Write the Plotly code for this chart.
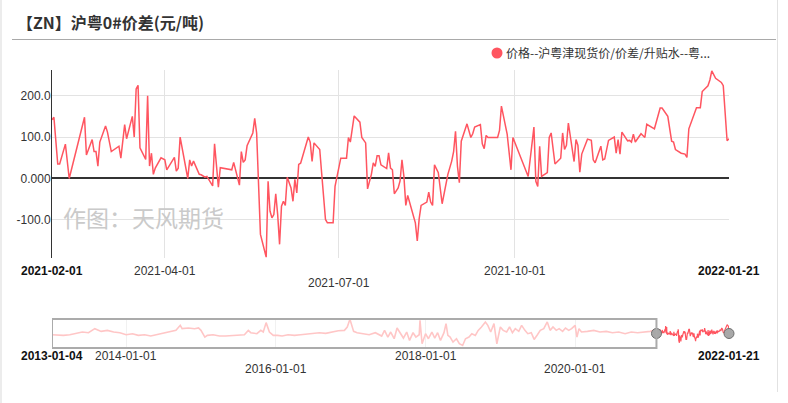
import plotly.graph_objects as go

# ---------------- data ----------------
main_dates = [
    "2021-02-01", "2021-02-02", "2021-02-04", "2021-02-05", "2021-02-08", "2021-02-10",
    "2021-02-18", "2021-02-19", "2021-02-22", "2021-02-23", "2021-02-24", "2021-02-25",
    "2021-02-26", "2021-03-01", "2021-03-02", "2021-03-04", "2021-03-08", "2021-03-09",
    "2021-03-11", "2021-03-12", "2021-03-15", "2021-03-16", "2021-03-17", "2021-03-18",
    "2021-03-19", "2021-03-22", "2021-03-23", "2021-03-24", "2021-03-25", "2021-03-26",
    "2021-03-27", "2021-03-30", "2021-04-01", "2021-04-02", "2021-04-06", "2021-04-07",
    "2021-04-08", "2021-04-09", "2021-04-13", "2021-04-14", "2021-04-15", "2021-04-16",
    "2021-04-19", "2021-04-20", "2021-04-22", "2021-04-23", "2021-04-26", "2021-04-27",
    "2021-04-29", "2021-04-30", "2021-05-06", "2021-05-07", "2021-05-10", "2021-05-11",
    "2021-05-12", "2021-05-13", "2021-05-14", "2021-05-17", "2021-05-18", "2021-05-19",
    "2021-05-21", "2021-05-24", "2021-05-25", "2021-05-26", "2021-05-27", "2021-05-28",
    "2021-05-29", "2021-05-30", "2021-05-31", "2021-06-01", "2021-06-02", "2021-06-03",
    "2021-06-04", "2021-06-06", "2021-06-07", "2021-06-08", "2021-06-09", "2021-06-10",
    "2021-06-11", "2021-06-15", "2021-06-16", "2021-06-17", "2021-06-18", "2021-06-21",
    "2021-06-22", "2021-06-23", "2021-06-24", "2021-06-25", "2021-06-28", "2021-06-29",
    "2021-06-30", "2021-07-02", "2021-07-05", "2021-07-06", "2021-07-07", "2021-07-09",
    "2021-07-12", "2021-07-13", "2021-07-15", "2021-07-16", "2021-07-18", "2021-07-19",
    "2021-07-20", "2021-07-21", "2021-07-22", "2021-07-23", "2021-07-26", "2021-07-27",
    "2021-07-28", "2021-07-29", "2021-07-30", "2021-08-01", "2021-08-02", "2021-08-03",
    "2021-08-04", "2021-08-05", "2021-08-06", "2021-08-09", "2021-08-10", "2021-08-11",
    "2021-08-12", "2021-08-13", "2021-08-16", "2021-08-17", "2021-08-18", "2021-08-19",
    "2021-08-20", "2021-08-22", "2021-08-23", "2021-08-24", "2021-08-27", "2021-08-29",
    "2021-08-30", "2021-08-31", "2021-09-01", "2021-09-02", "2021-09-03", "2021-09-06",
    "2021-09-08", "2021-09-09", "2021-09-10", "2021-09-13", "2021-09-14", "2021-09-15",
    "2021-09-16", "2021-09-17", "2021-09-22", "2021-09-23", "2021-09-24", "2021-09-27",
    "2021-09-29", "2021-09-30", "2021-10-08", "2021-10-11", "2021-10-12", "2021-10-13",
    "2021-10-14", "2021-10-15", "2021-10-18", "2021-10-19", "2021-10-20", "2021-10-22",
    "2021-10-25", "2021-10-26", "2021-10-27", "2021-10-28", "2021-10-29", "2021-11-01",
    "2021-11-02", "2021-11-03", "2021-11-04", "2021-11-05", "2021-11-08", "2021-11-10",
    "2021-11-11", "2021-11-12", "2021-11-15", "2021-11-16", "2021-11-17", "2021-11-19",
    "2021-11-22", "2021-11-23", "2021-11-24", "2021-11-25", "2021-11-26", "2021-11-28",
    "2021-11-29", "2021-11-30", "2021-12-01", "2021-12-02", "2021-12-03", "2021-12-06",
    "2021-12-08", "2021-12-09", "2021-12-13", "2021-12-16", "2021-12-17", "2021-12-20",
    "2021-12-22", "2021-12-23", "2021-12-24", "2021-12-27", "2021-12-29", "2021-12-30",
    "2021-12-31", "2022-01-04", "2022-01-06", "2022-01-07", "2022-01-10", "2022-01-11",
    "2022-01-12", "2022-01-14", "2022-01-17", "2022-01-18", "2022-01-20", "2022-01-21",
]
main_values = [
    142, 148, 35, 35, 83, 0,
    148, 57, 94, 65, 65, 30,
    88, 127, 112, 65, 78, 49,
    130, 96, 150, 100, 216, 225,
    74, 46, 200, 30, 61, 10,
    25, 50, 45, 21, 51, 18,
    25, 100, 0, 45, 30, 42,
    10, 9, 3, 5, -18, 84,
    -21, 26, 21, 39, -16, 65,
    39, 45, 79, 110, 145, 110,
    -135, -190, -7, -79, -95, -87,
    -37, -87, -159, -67, -55, -65,
    3, -23, -55, -2, -35, 34,
    37, 100, 88, 41, 86, 70,
    13, -51, -99, -107, -107, -19,
    2, 49, 49, 99, 88, 151,
    136, 99, 86, -25, 10, 38,
    29, 55, 55, 33, 24, 62,
    25, 21, -37, -23, -6, 45,
    5, -65, -41, -96, -107, -151,
    -97, -65, -57, -33, -57, -65,
    33, 14, -21, -61, 10, 42,
    65, 114, 30, -10, 90, 132,
    99, 108, 124, 130, 84, 72,
    104, 99, 99, 116, 175, 107,
    21, 99, 5, 124, -7, -19,
    78, 5, 14, 99, 110, 35,
    49, 110, 70, 80, 134, 41,
    94, 80, 15, 59, 95, 92,
    45, 38, 78, 45, 47, 92,
    100, 61, 94, 59, 112, 96,
    91, 92, 88, 107, 88, 108,
    99, 131, 120, 170, 170, 150,
    90, 88, 70, 61, 59, 51,
    120, 171, 171, 210, 224, 238,
    260, 242, 232, 224, 91, 96,
]

hist_dates = [
    "2013-01-04", "2013-02-01", "2013-03-01", "2013-04-01", "2013-05-01", "2013-06-01",
    "2013-07-01", "2013-08-01", "2013-09-01", "2013-10-01", "2013-11-01", "2013-12-01",
    "2014-01-01", "2014-02-01", "2014-03-01", "2014-04-01", "2014-05-01", "2014-06-01",
    "2014-07-01", "2014-08-01", "2014-09-01", "2014-09-22", "2014-10-01", "2014-11-01",
    "2014-12-01", "2014-12-20", "2015-01-01", "2015-01-20", "2015-02-01", "2015-03-01",
    "2015-04-01", "2015-05-01", "2015-06-01", "2015-07-01", "2015-08-01", "2015-08-20",
    "2015-09-01", "2015-10-01", "2015-10-20", "2015-11-01", "2015-11-15", "2015-12-01",
    "2015-12-20", "2016-01-10", "2016-02-01", "2016-03-01", "2016-04-01", "2016-05-01",
    "2016-06-01", "2016-07-01", "2016-08-01", "2016-09-01", "2016-10-01", "2016-11-01",
    "2016-12-01", "2016-12-15", "2016-12-28", "2017-01-05", "2017-01-15", "2017-02-01",
    "2017-03-01", "2017-04-01", "2017-05-01", "2017-06-01", "2017-06-15", "2017-07-01",
    "2017-07-15", "2017-08-01", "2017-08-15", "2017-09-01", "2017-09-15", "2017-10-01",
    "2017-10-15", "2017-11-01", "2017-11-15", "2017-12-01", "2017-12-05", "2017-12-15",
    "2018-01-01", "2018-01-15", "2018-02-01", "2018-02-15", "2018-03-01", "2018-03-15",
    "2018-04-01", "2018-04-11", "2018-04-20", "2018-05-01", "2018-05-15", "2018-06-01",
    "2018-06-15", "2018-07-01", "2018-07-15", "2018-08-01", "2018-08-15", "2018-09-01",
    "2018-09-15", "2018-10-01", "2018-10-20", "2018-11-01", "2018-11-15", "2018-12-01",
    "2018-12-15", "2019-01-01", "2019-01-15", "2019-02-01", "2019-02-15", "2019-03-01",
    "2019-03-15", "2019-04-01", "2019-04-15", "2019-05-01", "2019-05-15", "2019-06-01",
    "2019-06-15", "2019-07-01", "2019-07-15", "2019-08-01", "2019-08-18", "2019-09-01",
    "2019-09-15", "2019-10-01", "2019-10-15", "2019-11-01", "2019-11-15", "2019-12-01",
    "2019-12-15", "2020-01-01", "2020-01-10", "2020-01-20", "2020-02-01", "2020-03-01",
    "2020-04-01", "2020-05-01", "2020-06-01", "2020-07-01", "2020-08-01", "2020-09-01",
    "2020-10-01", "2020-11-01", "2020-12-01", "2021-01-01", "2021-02-01",
]
hist_values = [
    10, -7, -7, 10, 52, 77,
    60, 160, 93, 118, 77, 60,
    10, 35, -7, 10, -23, 10,
    35, 77, 118, 243, 160, 177,
    160, 177, 118, -48, -7, 10,
    -23, -23, -7, -7, 10, 118,
    60, 35, 118, 77, 310, 77,
    -7, -7, -23, 10, -7, 10,
    27, 43, 60, 43, 77, 110,
    118, 202, 393, 243, 93, 60,
    35, 10, 60, -23, 118, -48,
    77, -90, 177, 35, -73, 77,
    -132, 60, -48, 10, 368, -215,
    35, -90, 77, -73, 60, -132,
    60, 285, -7, -48, -173, -90,
    -215, -257, -90, -48, 35, -7,
    118, 202, 326, 243, 77, 285,
    -215, 202, 118, 77, 202, 60,
    160, 93, 243, 118, 35, 60,
    -107, 10, 118, 160, 326, 118,
    202, 118, 160, 93, 177, 118,
    160, 243, -48, 160, 77, 93,
    118, 77, 93, 60, 77, 35,
    77, 60, 77, 93, 142,
]

y_tick_values = [-100, 0, 100, 200]
y_tick_text = ["-100.0", "0.000", "100.0", "200.0"]
main_grid_dates = ["2021-04-01", "2021-07-01", "2021-10-01"]
main_grid_rows = [1, 2, 1]
nav_grid_dates = ["2014-01-01", "2016-01-01", "2018-01-01", "2020-01-01"]
nav_grid_rows = [1, 2, 1, 2]

title_text = "【ZN】沪粤0#价差(元/吨)"
legend_text = "价格--沪粤津现货价/价差/升贴水--粤..."
watermark_text = "作图：天风期货"

# ---------------- styling / layout helpers ----------------
W, H = 788, 403
PL, PT, PR, PB = 52, 70, 59, 55
PW, PH = W - PL - PR, H - PT - PB


def px(x):
    return (x - PL) / PW


def py(y):
    return (PT + PH - y) / PH


RED = "#ff5560"
PINK = "#ffc6c6"
FONT = "Liberation Sans, Arial, Noto Sans CJK SC, sans-serif"
CJK = "Noto Sans CJK SC, Liberation Sans, sans-serif"

main_dom = [py(258), 1.0]
nav_dom = [0.0, py(319)]
nav_range = [-320, 400]

fig = go.Figure()

# main series
fig.add_trace(go.Scatter(x=main_dates, y=main_values, mode="lines",
                         line=dict(color=RED, width=1.5), xaxis="x", yaxis="y",
                         showlegend=False, hoverinfo="skip"))
# navigator: history (unselected) + selected window
fig.add_trace(go.Scatter(x=hist_dates, y=hist_values, mode="lines",
                         line=dict(color=PINK, width=1.6), xaxis="x2", yaxis="y2",
                         showlegend=False, hoverinfo="skip"))
fig.add_trace(go.Scatter(x=main_dates, y=main_values, mode="lines",
                         line=dict(color=RED, width=1.2), xaxis="x2", yaxis="y2",
                         showlegend=False, hoverinfo="skip"))
# navigator handles
mid = (nav_range[0] + nav_range[1]) / 2
fig.add_trace(go.Scatter(x=[main_dates[0], main_dates[-1]], y=[mid, mid], mode="markers",
                         marker=dict(size=10, color="#a8a8a8", line=dict(color="#6e6e6e", width=1)),
                         xaxis="x2", yaxis="y2", cliponaxis=False,
                         showlegend=False, hoverinfo="skip"))

shapes = [
    # title separator
    dict(type="line", xref="paper", yref="paper", x0=px(12), x1=px(776), y0=py(39.5), y1=py(39.5),
         line=dict(color="#a9a9a9", width=1)),
    # right panel border
    dict(type="line", xref="paper", yref="paper", x0=px(777.5), x1=px(777.5), y0=py(0), y1=py(392),
         line=dict(color="#e2e2e2", width=1)),
    dict(type="line", xref="paper", yref="paper", x0=px(1), x1=px(1), y0=py(0), y1=py(403),
         line=dict(color="#ececec", width=2)),
    # legend marker
    dict(type="circle", xref="paper", yref="paper", xsizemode="pixel", ysizemode="pixel",
         xanchor=px(497), yanchor=py(53), x0=-5.5, x1=5.5, y0=-5.5, y1=5.5,
         fillcolor=RED, line=dict(color=RED, width=0)),
    # navigator mask box over the unselected range
    dict(type="rect", xref="x2", yref="y2 domain", x0=hist_dates[0], x1=main_dates[0], y0=0, y1=1,
         line=dict(color="#ababab", width=2), fillcolor="rgba(0,0,0,0)", layer="above"),
]

annotations = [
    dict(text=f"<b>{title_text}</b>", xref="paper", yref="paper", x=px(15), y=py(22.5),
         xanchor="left", yanchor="middle", showarrow=False,
         font=dict(family=CJK, size=16, color="#333333")),
    dict(text=legend_text, xref="paper", yref="paper", x=px(504), y=py(53),
         xanchor="left", yanchor="middle", showarrow=False,
         font=dict(family=CJK, size=12, color="#333333")),
    dict(text=watermark_text, xref="paper", yref="paper", x=px(143), y=py(217),
         xanchor="center", yanchor="middle", showarrow=False,
         font=dict(family=CJK, size=23, color="#cacaca")),
]

row_y_main = {1: py(271), 2: py(283)}
row_y_nav = {1: py(356), 2: py(369)}

# main x labels
for d in [main_dates[0], main_dates[-1]]:
    annotations.append(dict(text=f"<b>{d}</b>", xref="x", yref="paper", x=d, y=row_y_main[1],
                            xanchor="center", yanchor="middle", showarrow=False,
                            font=dict(family=FONT, size=12, color="#111111")))
for d, r in zip(main_grid_dates, main_grid_rows):
    annotations.append(dict(text=d, xref="x", yref="paper", x=d, y=row_y_main[r],
                            xanchor="center", yanchor="middle", showarrow=False,
                            font=dict(family=FONT, size=12, color="#333333")))
# navigator x labels
for d in [hist_dates[0], main_dates[-1]]:
    annotations.append(dict(text=f"<b>{d}</b>", xref="x2", yref="paper", x=d, y=row_y_nav[1],
                            xanchor="center", yanchor="middle", showarrow=False,
                            font=dict(family=FONT, size=12, color="#111111")))
for d, r in zip(nav_grid_dates, nav_grid_rows):
    annotations.append(dict(text=d, xref="x2", yref="paper", x=d, y=row_y_nav[r],
                            xanchor="center", yanchor="middle", showarrow=False,
                            font=dict(family=FONT, size=12, color="#333333")))

fig.update_layout(
    width=W, height=H, autosize=False,
    margin=dict(l=PL, r=PR, t=PT, b=PB, pad=0),
    paper_bgcolor="white", plot_bgcolor="white",
    showlegend=False,
    xaxis=dict(domain=[0, 1], anchor="y", type="date",
               range=[main_dates[0], main_dates[-1]],
               tickmode="array", tickvals=main_grid_dates, showticklabels=False,
               showgrid=True, gridcolor="#e3e3e3", gridwidth=1,
               showline=False, zeroline=False, ticks=""),
    yaxis=dict(domain=main_dom, anchor="x",
               range=[-192, 262],
               tickmode="array", tickvals=y_tick_values, ticktext=y_tick_text,
               showgrid=True, gridcolor="#e3e3e3", gridwidth=1,
               zeroline=True, zerolinecolor="#333333", zerolinewidth=2,
               showline=True, linecolor="#333333", linewidth=1, ticks="",
               ticklabelstandoff=-2, automargin=False,
               tickfont=dict(family=FONT, size=12, color="#333333")),
    xaxis2=dict(domain=[0, 1], anchor="y2", type="date",
                range=[hist_dates[0], main_dates[-1]],
                tickmode="array", tickvals=nav_grid_dates, showticklabels=False,
                showgrid=True, gridcolor="#f1f1f1", gridwidth=1,
                showline=False, zeroline=False, ticks=""),
    yaxis2=dict(domain=nav_dom, anchor="x2", range=nav_range,
                showgrid=False, zeroline=False, showticklabels=False, showline=False, ticks=""),
    shapes=shapes,
    annotations=annotations,
)

fig.write_html("out.html", config={"displayModeBar": False},
               post_script="document.body.style.margin='0';document.body.style.overflow='hidden';")
